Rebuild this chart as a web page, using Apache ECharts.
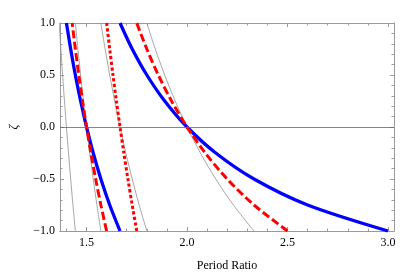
<!DOCTYPE html>
<html><head><meta charset="utf-8">
<script src="https://cdn.jsdelivr.net/npm/echarts@6/dist/echarts.min.js"></script>
<style>html,body{margin:0;padding:0;background:#fff}#c{width:417px;height:277px}</style>
</head><body><div id="c"></div>
<script>
// zeta values (y) shared by all curves
const zeta = [-1, -0.75, -0.5, -0.25, 0, 0.25, 0.5, 0.75, 1];
// period ratio (x) read for each curve at the zeta values above
const blueA = [1.6667, 1.6154, 1.5714, 1.5333, 1.5, 1.4706, 1.4444, 1.4211, 1.4];
const blueB = [3.0, 2.6, 2.3333, 2.1429, 2.0, 1.8889, 1.8, 1.7273, 1.6667];
const dashA = [1.6, 1.5714, 1.5455, 1.5217, 1.5, 1.48, 1.4615, 1.4444, 1.4286];
const dashB = [2.5, 2.3333, 2.2, 2.0909, 2.0, 1.9231, 1.8571, 1.8, 1.75];
const dotA  = [1.75, 1.7273, 1.7059, 1.6857, 1.6667, 1.6486, 1.6316, 1.6154, 1.6];
const grayA = [1.4444, 1.4324, 1.4211, 1.4103, 1.4, 1.3902, 1.3810, 1.3721, 1.3636];
const grayB = [1.5714, 1.5517, 1.5333, 1.5161, 1.5, 1.4848, 1.4706, 1.4571, 1.4444];
const grayC = [1.8, 1.7619, 1.7273, 1.6957, 1.6667, 1.64, 1.6154, 1.5926, 1.5714];
const grayD = [2.3333, 2.2308, 2.1429, 2.0667, 2.0, 1.9412, 1.8889, 1.8421, 1.8];
// axes
const xRange = [1.368, 3.03];
const xMajor = [1.5, 2.0, 2.5, 3.0];
const xMinor = [1.4, 1.6, 1.7, 1.8, 1.9, 2.1, 2.2, 2.3, 2.4, 2.6, 2.7, 2.8, 2.9];
const yRange = [-1, 1];
const xTitle = 'Period Ratio';
const yTitle = 'ζ';

const frame = '#9a9a9a';
const font = 'Liberation Serif';
const pair = xs => xs.map((x, i) => [x, zeta[i]]);

function xAx(pos, ticks, len, labels, extra) {
  return Object.assign({
    type: 'value', position: pos, min: xRange[0], max: xRange[1],
    axisLine: {show: true, onZero: false, lineStyle: {color: frame, width: 1}},
    axisTick: {show: true, inside: true, length: len, customValues: ticks, lineStyle: {color: frame}},
    axisLabel: labels ? {show: true, customValues: xMajor, color: '#000', fontFamily: font, fontSize: 12, margin: 6,
      formatter: v => v.toFixed(1)} : {show: false},
    splitLine: {show: false}
  }, extra || {});
}
function yAx(pos, labels, extra) {
  return Object.assign({
    type: 'value', position: pos, min: yRange[0], max: yRange[1], interval: 0.5,
    axisLine: {show: true, onZero: false, lineStyle: {color: frame, width: 1}},
    axisTick: {show: true, inside: true, length: 4, lineStyle: {color: frame}},
    minorTick: {show: true, splitNumber: 5, length: 2.5, lineStyle: {color: frame}},
    axisLabel: labels ? {show: true, color: '#000', fontFamily: font, fontSize: 12, margin: 5,
      formatter: v => (v < 0 ? '\u2212' : '') + Math.abs(v).toFixed(1)} : {show: false},
    splitLine: {show: false}
  }, extra || {});
}

const line = (xs, color, width, type, z) => ({
  type: 'line', data: pair(xs), smooth: 0.3, symbol: 'none', xAxisIndex: 0, yAxisIndex: 0,
  lineStyle: {color, width, type, cap: 'butt'}, z, animation: false
});

const series = [
  line(grayA, '#909090', 0.8, 'solid', 2),
  line(grayB, '#909090', 0.8, 'solid', 2),
  line(grayC, '#909090', 0.8, 'solid', 2),
  line(grayD, '#909090', 0.8, 'solid', 2),
  line(blueA, '#0000ff', 3.3, 'solid', 3),
  line(blueB, '#0000ff', 3.3, 'solid', 3),
  line(dashA, '#ff0000', 3, [8, 3.5], 4),
  line(dashB, '#ff0000', 3, [8, 3.5], 4),
  line(dotA, '#ff0000', 3, [3.2, 2.4], 4)
];
series[0].markLine = {silent: true, symbol: 'none', label: {show: false}, animation: false,
  lineStyle: {color: '#666', width: 0.8, type: 'solid'}, data: [{yAxis: 0}]};

const chart = echarts.init(document.getElementById('c'), null, {renderer: 'canvas'});
chart.setOption({
  animation: false,
  backgroundColor: '#fff',
  grid: {left: 50, right: 23, top: 23, bottom: 42, containLabel: false},
  xAxis: [
    xAx('bottom', xMajor, 4, true, {name: xTitle, nameLocation: 'middle', nameGap: 29,
      nameTextStyle: {color: '#000', fontFamily: font, fontSize: 12}}),
    xAx('bottom', xMinor, 2.5, false),
    xAx('top', xMajor, 4, false),
    xAx('top', xMinor, 2.5, false)
  ],
  yAxis: [
    yAx('left', true, {name: yTitle, nameLocation: 'middle', nameGap: 40, nameRotate: 90,
      nameTextStyle: {color: '#000', fontFamily: font, fontSize: 12, fontStyle: 'italic'}}),
    yAx('right', false)
  ],
  series
});
</script></body></html>
